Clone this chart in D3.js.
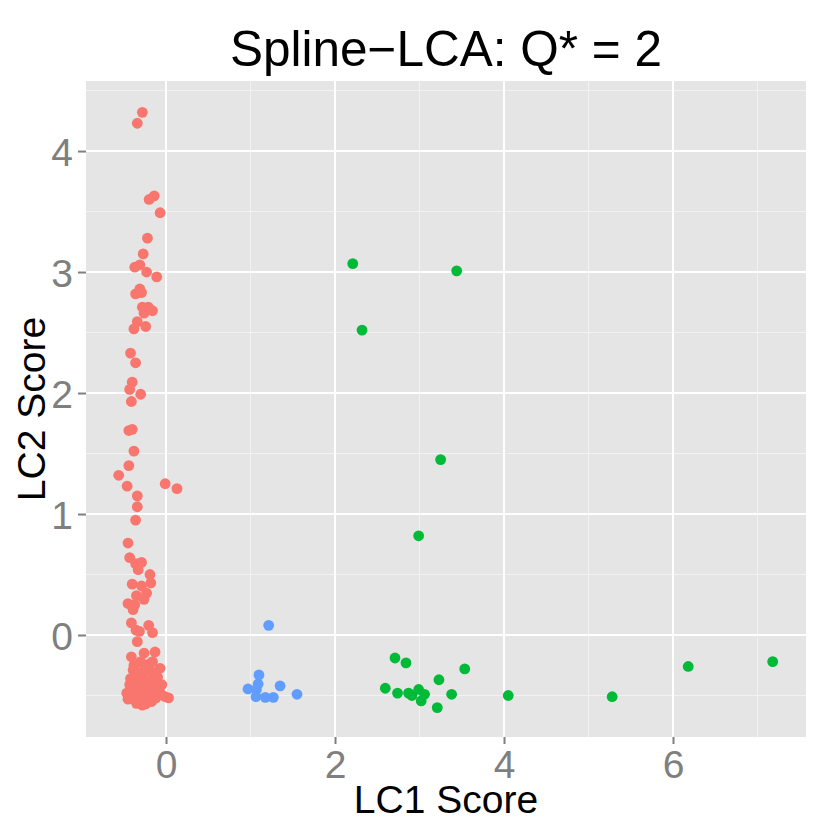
<!DOCTYPE html>
<html>
<head>
<meta charset="utf-8">
<script src="https://cdn.jsdelivr.net/npm/d3@7"></script>
<style>
  body { margin: 0; background: #fff; }
  text { font-family: "Liberation Sans", Arial, Helvetica, sans-serif; }
</style>
</head>
<body>
<div class="wrapper"></div>
<script>
// class 1 (red) - LC1 / LC2 scores
const class1LC1 = [
  -0.28, -0.34, -0.14, -0.20, -0.07, -0.22, -0.27, -0.37, -0.31, -0.23, -0.11,
  -0.31, -0.36, -0.29, -0.28, -0.21, -0.16, -0.26, -0.34, -0.24, -0.38,
  -0.42, -0.36, -0.40, -0.43, -0.30, -0.41, -0.40, -0.44, -0.38, -0.44, -0.56,
  -0.46, -0.01, 0.13, -0.34, -0.34, -0.36, -0.45, -0.43, -0.36, -0.29, -0.33, -0.19,
  -0.40, -0.29, -0.18, -0.23, -0.35, -0.26, -0.45, -0.37, -0.39, -0.41, -0.355,
  -0.315, -0.205, -0.16, -0.34,
  -0.41, -0.26, -0.13, -0.39, -0.07, -0.20, -0.30, -0.43, -0.465, -0.45, -0.35,
  -0.28, -0.17, -0.01, 0.03, -0.05, -0.10, -0.42, -0.36, -0.32, -0.27, -0.22,
  -0.15, -0.38, -0.33, -0.28, -0.23, -0.18, -0.12, -0.40, -0.35, -0.30, -0.25,
  -0.20, -0.15, -0.08, -0.42, -0.37, -0.32, -0.27, -0.22, -0.12, -0.31, -0.24,
  -0.06, -0.38, -0.25, -0.16
]
const class1LC2 = [
  4.32, 4.23, 3.63, 3.60, 3.49, 3.28, 3.15, 3.04, 3.06, 3.00, 2.96,
  2.86, 2.82, 2.83, 2.71, 2.71, 2.68, 2.66, 2.59, 2.55, 2.53,
  2.33, 2.25, 2.09, 2.03, 1.99, 1.93, 1.70, 1.69, 1.52, 1.40, 1.32,
  1.23, 1.25, 1.21, 1.15, 1.06, 0.95, 0.76, 0.64, 0.59, 0.60, 0.54, 0.50,
  0.42, 0.405, 0.43, 0.345, 0.325, 0.295, 0.26, 0.25, 0.21, 0.10, 0.04,
  0.03, 0.08, 0.02, -0.055,
  -0.18, -0.15, -0.14, -0.29, -0.275, -0.24, -0.22, -0.41, -0.48, -0.53, -0.565,
  -0.58, -0.55, -0.51, -0.52, -0.41, -0.35, -0.36, -0.30, -0.35, -0.32, -0.30,
  -0.31, -0.42, -0.40, -0.38, -0.40, -0.38, -0.42, -0.47, -0.46, -0.44, -0.47,
  -0.45, -0.48, -0.46, -0.52, -0.51, -0.50, -0.53, -0.52, -0.52, -0.56, -0.57,
  -0.49, -0.25, -0.26, -0.22
]

// class 2 (green)
const class2LC1 = [2.21, 3.44, 2.32, 3.25, 2.99, 2.71, 2.84, 3.535, 3.23, 2.595, 2.74,
  2.87, 2.91, 2.99, 3.06, 3.02, 3.38, 3.21, 4.05, 5.28, 6.18, 7.18]
const class2LC2 = [3.07, 3.01, 2.52, 1.45, 0.82, -0.19, -0.23, -0.28, -0.37, -0.44, -0.48,
  -0.48, -0.50, -0.45, -0.49, -0.545, -0.49, -0.60, -0.50, -0.51, -0.26, -0.22]

// class 3 (blue)
const class3LC1 = [1.215, 1.10, 1.09, 0.97, 1.07, 1.35, 1.065, 1.175, 1.27, 1.55]
const class3LC2 = [0.08, -0.33, -0.405, -0.446, -0.45, -0.42, -0.51, -0.515, -0.515, -0.49]

const classColors = ['#F8766D', '#00BA38', '#619CFF']
const xTicks = [0, 2, 4, 6]
const yTicks = [0, 1, 2, 3, 4]
const xMinor = [1, 3, 5, 7]
const yMinor = [-0.5, 0.5, 1.5, 2.5, 3.5, 4.5]

const width = 830, height = 830
const panel = { left: 86, right: 806, top: 81, bottom: 737 }

const svg = d3.select('.wrapper')
  .append('svg')
  .attr('width', width)
  .attr('height', height)

const x = d3.scaleLinear().domain([-0.947, 7.574]).range([panel.left, panel.right])
const y = d3.scaleLinear().domain([-0.843, 4.579]).range([panel.bottom, panel.top])

svg.append('rect')
  .attr('x', panel.left).attr('y', panel.top)
  .attr('width', panel.right - panel.left)
  .attr('height', panel.bottom - panel.top)
  .attr('fill', '#E5E5E5')

// minor grid
svg.selectAll('line.xminor').data(xMinor).enter().append('line')
  .attr('x1', d => x(d)).attr('x2', d => x(d))
  .attr('y1', panel.top).attr('y2', panel.bottom)
  .attr('stroke', '#F2F2F2').attr('stroke-width', 1)
svg.selectAll('line.yminor').data(yMinor).enter().append('line')
  .attr('y1', d => y(d)).attr('y2', d => y(d))
  .attr('x1', panel.left).attr('x2', panel.right)
  .attr('stroke', '#F2F2F2').attr('stroke-width', 1)

// major grid
svg.selectAll('line.xmajor').data(xTicks).enter().append('line')
  .attr('x1', d => x(d)).attr('x2', d => x(d))
  .attr('y1', panel.top).attr('y2', panel.bottom)
  .attr('stroke', '#fff').attr('stroke-width', 2)
svg.selectAll('line.ymajor').data(yTicks).enter().append('line')
  .attr('y1', d => y(d)).attr('y2', d => y(d))
  .attr('x1', panel.left).attr('x2', panel.right)
  .attr('stroke', '#fff').attr('stroke-width', 2)

// points
const groups = [
  [class1LC1, class1LC2],
  [class2LC1, class2LC2],
  [class3LC1, class3LC2]
]
groups.forEach(([xs, ys], k) => {
  svg.append('g').selectAll('circle')
    .data(xs.map((v, i) => [v, ys[i]]))
    .enter().append('circle')
    .attr('cx', d => x(d[0]))
    .attr('cy', d => y(d[1]))
    .attr('r', 5.4)
    .attr('fill', classColors[k])
})

// axes
const xAxis = svg.append('g')
  .attr('transform', `translate(0, ${panel.bottom})`)
  .call(d3.axisBottom(x).tickValues(xTicks).tickSize(7).tickPadding(8).tickFormat(d3.format('d')))
const yAxis = svg.append('g')
  .attr('transform', `translate(${panel.left}, 0)`)
  .call(d3.axisLeft(y).tickValues(yTicks).tickSize(8).tickPadding(6).tickFormat(d3.format('d')))

;[xAxis, yAxis].forEach(a => {
  a.select('.domain').remove()
  a.selectAll('.tick line').attr('stroke', '#7F7F7F').attr('stroke-width', 2)
  a.selectAll('.tick text')
    .attr('fill', '#7F7F7F')
    .style('font-size', '39px')
    .style('font-family', '"Liberation Sans", Arial, sans-serif')
})
xAxis.selectAll('.tick text').attr('dy', null).attr('y', 41)
yAxis.selectAll('.tick text').attr('dy', null).attr('y', 14).attr('x', -13)

// titles
svg.append('text')
  .attr('x', (panel.left + panel.right) / 2)
  .attr('y', 66)
  .attr('text-anchor', 'middle')
  .style('font-size', '49.5px')
  .text('Spline\u2212LCA: Q* = 2')

svg.append('text')
  .attr('x', (panel.left + panel.right) / 2)
  .attr('y', 813)
  .attr('text-anchor', 'middle')
  .style('font-size', '39px')
  .text('LC1 Score')

svg.append('text')
  .attr('transform', `translate(45, ${(panel.top + panel.bottom) / 2}) rotate(-90)`)
  .attr('text-anchor', 'middle')
  .style('font-size', '39px')
  .text('LC2 Score')
</script>
</body>
</html>
